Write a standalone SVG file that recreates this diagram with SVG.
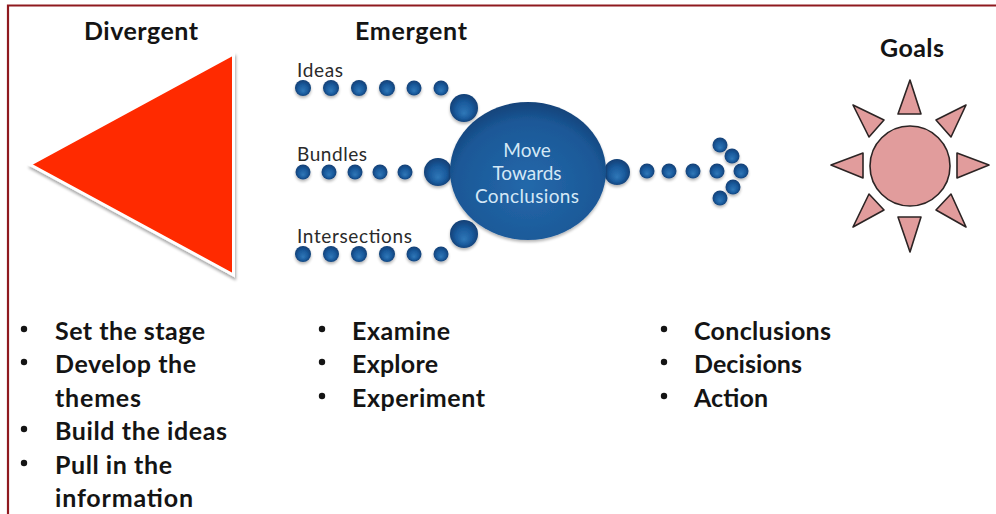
<svg xmlns="http://www.w3.org/2000/svg" width="996" height="514" viewBox="0 0 996 514">
<defs>
<radialGradient id="ball" cx="0.5" cy="0.5" r="0.55" fx="0.5" fy="0.7">
<stop offset="0" stop-color="#3078b8"/><stop offset="0.55" stop-color="#1a5a9c"/><stop offset="1" stop-color="#0f3a6e"/>
</radialGradient>
<radialGradient id="bigball" cx="0.5" cy="0.6" r="0.62">
<stop offset="0" stop-color="#2468aa"/><stop offset="0.75" stop-color="#1b5897"/><stop offset="1" stop-color="#123f74"/>
</radialGradient>
<filter id="sh" x="-30%" y="-30%" width="160%" height="170%"><feGaussianBlur in="SourceAlpha" stdDeviation="1.4"/><feOffset dy="2"/><feComponentTransfer><feFuncA type="linear" slope="0.3"/></feComponentTransfer><feMerge><feMergeNode/><feMergeNode in="SourceGraphic"/></feMerge></filter>
<filter id="tri" x="-10%" y="-10%" width="120%" height="120%"><feGaussianBlur in="SourceAlpha" stdDeviation="1.5"/><feOffset dx="1" dy="3"/><feComponentTransfer><feFuncA type="linear" slope="0.35"/></feComponentTransfer><feMerge><feMergeNode/><feMergeNode in="SourceGraphic"/></feMerge></filter>
</defs>
<style>
.h{font:700 25px Lato,"Open Sans",sans-serif;fill:#141414}
.b{font:700 25px Lato,"Open Sans",sans-serif;fill:#141414}
.l{font:400 19px Lato,"Open Sans",sans-serif;fill:#2a2a2a}
.c{font:400 19px Lato,"Open Sans",sans-serif;fill:#d4e8f6;text-anchor:middle}
.d{fill:url(#ball);filter:url(#sh)}
.s{fill:#e19c9c;stroke:#2c2424;stroke-width:1.6;stroke-linejoin:round}
.p{fill:#141414}
</style>
<rect x="0" y="0" width="996" height="514" fill="#fff"/>
<path d="M8 520V5.5H996" fill="none" stroke="#8f1a1f" stroke-width="2.2"/>

<g id="connectors">
<g id="ideas-dots"><circle class="d" cx="303" cy="88" r="8"/><circle class="d" cx="331" cy="88" r="8"/><circle class="d" cx="359" cy="88" r="8"/><circle class="d" cx="387" cy="88" r="8"/><circle class="d" cx="414" cy="88" r="7.5"/><circle class="d" cx="441" cy="88" r="7.5"/><circle class="d" cx="464" cy="108" r="14"/></g>
<g id="bundles-dots"><circle class="d" cx="303" cy="172" r="7.5"/><circle class="d" cx="329" cy="172" r="7.5"/><circle class="d" cx="355" cy="172" r="7.5"/><circle class="d" cx="380" cy="172" r="7.5"/><circle class="d" cx="405" cy="172" r="7.5"/><circle class="d" cx="438" cy="172" r="14"/></g>
<g id="intersections-dots"><circle class="d" cx="303" cy="254" r="8"/><circle class="d" cx="331" cy="254" r="8"/><circle class="d" cx="359" cy="254" r="8"/><circle class="d" cx="387" cy="254" r="8"/><circle class="d" cx="414" cy="254" r="7.5"/><circle class="d" cx="441" cy="254" r="7.5"/><circle class="d" cx="464" cy="234" r="14"/></g>
<g id="arrow-dots"><circle class="d" cx="617" cy="172" r="13"/><circle class="d" cx="647" cy="171" r="7.5"/><circle class="d" cx="669" cy="171" r="7.5"/><circle class="d" cx="693" cy="171" r="7.5"/><circle class="d" cx="717" cy="171" r="7.5"/><circle class="d" cx="741" cy="171" r="7.5"/><circle class="d" cx="720" cy="145" r="7.5"/><circle class="d" cx="732" cy="156" r="7.5"/><circle class="d" cx="733" cy="187" r="7.5"/><circle class="d" cx="720" cy="198" r="7.5"/></g>
</g>

<g id="divergent">
<text class="h" x="141" y="40" text-anchor="middle" textLength="114">Divergent</text>
<polygon points="30,164.5 233.5,54 233.5,275" fill="#ff2a00" stroke="#fff" stroke-width="3" filter="url(#tri)"/>
</g>

<g id="emergent">
<text class="h" x="411" y="40" text-anchor="middle" textLength="112">Emergent</text>
<text class="l" x="297" y="77" textLength="46">Ideas</text>
<text class="l" x="297" y="161" textLength="70">Bundles</text>
<text class="l" x="297" y="243" textLength="115">Intersections</text>
</g>

<g id="center">
<ellipse cx="528" cy="171" rx="78" ry="69" fill="url(#bigball)" filter="url(#sh)"/>
<text class="c" x="527" y="157">Move</text>
<text class="c" x="527" y="180">Towards</text>
<text class="c" x="527" y="203" textLength="104">Conclusions</text>
</g>

<g id="goals">
<text class="h" x="912" y="57" text-anchor="middle" textLength="64">Goals</text>
<circle class="s" cx="910" cy="166" r="40"/>
<polygon class="s" points="910,80 898,114 921,114"/>
<polygon class="s" points="989,165 957,153 957,178"/>
<polygon class="s" points="831,165 863,153 863,178"/>
<polygon class="s" points="910,252 898,217 921,217"/>
<polygon class="s" points="966,105 936,120 951,137"/>
<polygon class="s" points="853,105 884,120 869,137"/>
<polygon class="s" points="966,227 936,210 951,194"/>
<polygon class="s" points="853,227 884,210 869,194"/>
</g>

<g id="list-divergent">
<circle class="p" cx="24" cy="329" r="3.2"/><circle class="p" cx="24" cy="362" r="3.2"/><circle class="p" cx="24" cy="429" r="3.2"/><circle class="p" cx="24" cy="463" r="3.2"/>
<text class="b" x="55" y="340" textLength="150">Set the stage</text>
<text class="b" x="55" y="373" textLength="141">Develop the</text>
<text class="b" x="55" y="407" textLength="86">themes</text>
<text class="b" x="55" y="440" textLength="172">Build the ideas</text>
<text class="b" x="55" y="474" textLength="117">Pull in the</text>
<text class="b" x="55" y="507" textLength="138">information</text>
</g>
<g id="list-emergent">
<circle class="p" cx="322" cy="329" r="3.2"/><circle class="p" cx="322" cy="362" r="3.2"/><circle class="p" cx="322" cy="396" r="3.2"/>
<text class="b" x="352" y="340" textLength="98">Examine</text>
<text class="b" x="352" y="373" textLength="86">Explore</text>
<text class="b" x="352" y="407" textLength="133">Experiment</text>
</g>
<g id="list-goals">
<circle class="p" cx="664" cy="329" r="3.2"/><circle class="p" cx="664" cy="362" r="3.2"/><circle class="p" cx="664" cy="396" r="3.2"/>
<text class="b" x="694" y="340" textLength="137">Conclusions</text>
<text class="b" x="694" y="373" textLength="108">Decisions</text>
<text class="b" x="694" y="407" textLength="74">Action</text>
</g>
</svg>
